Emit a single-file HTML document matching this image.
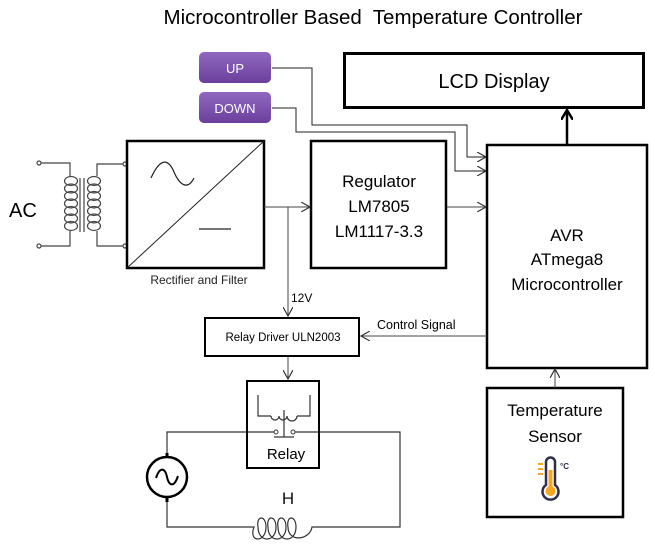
<!DOCTYPE html>
<html><head><style>
html,body{margin:0;padding:0;background:#fff;}
svg{display:block;font-family:"Liberation Sans",sans-serif;}
</style></head><body>
<svg width="655" height="548" viewBox="0 0 655 548" xmlns="http://www.w3.org/2000/svg">
<defs>
<linearGradient id="pg" x1="0" y1="0" x2="0" y2="1"><stop offset="0" stop-color="#9068c0"/><stop offset="1" stop-color="#6a3f9c"/></linearGradient>
<marker id="ar" markerWidth="10" markerHeight="10" refX="9" refY="5" orient="auto" markerUnits="userSpaceOnUse"><path d="M0,0 L9,5 L0,10" fill="none" stroke="#333" stroke-width="1.2"/></marker>
<marker id="ab" markerWidth="12" markerHeight="12" refX="10" refY="6" orient="auto" markerUnits="userSpaceOnUse"><path d="M0,0 L10,6 L0,12" fill="none" stroke="#000" stroke-width="2.5"/></marker>
</defs>
<text x="373" y="24" font-size="20.5" text-anchor="middle" fill="#000" xml:space="preserve">Microcontroller Based  Temperature Controller</text>

<!-- buttons -->
<rect x="199" y="52" width="72" height="31" rx="5" fill="url(#pg)"/>
<text x="235" y="73" font-size="13" fill="#fff" text-anchor="middle">UP</text>
<rect x="199" y="92" width="72" height="31" rx="5" fill="url(#pg)"/>
<text x="235" y="113" font-size="13" fill="#fff" text-anchor="middle">DOWN</text>
<polyline points="272,68 312,68 312,125 467,125 467,157 486,157" fill="none" stroke="#222" stroke-width="1" marker-end="url(#ar)"/>
<polyline points="272,108 296,108 296,132 455,132 455,171 486,171" fill="none" stroke="#222" stroke-width="1" marker-end="url(#ar)"/>

<!-- LCD -->
<rect x="344.5" y="53.5" width="299" height="54" fill="#fff" stroke="#000" stroke-width="3"/>
<text x="494" y="88" font-size="20" text-anchor="middle">LCD Display</text>
<line x1="567" y1="145" x2="567" y2="110" stroke="#000" stroke-width="2.5" marker-end="url(#ab)"/>

<!-- AVR -->
<rect x="487" y="145" width="160" height="223" fill="#fff" stroke="#000" stroke-width="2.5"/>
<text x="567" y="241" font-size="17" text-anchor="middle">AVR</text>
<text x="567" y="265" font-size="17" text-anchor="middle">ATmega8</text>
<text x="567" y="290" font-size="17" text-anchor="middle">Microcontroller</text>

<!-- transformer -->
<g fill="none" stroke="#444" stroke-width="1.2">
<circle cx="39" cy="163" r="2" fill="#fff"/><circle cx="39" cy="246" r="2" fill="#fff"/>
<polyline points="41,163 70,163 70,176"/><polyline points="41,246 70,246 70,231"/>
<ellipse cx="71" cy="181" rx="6.5" ry="4.5"/><ellipse cx="71" cy="188.5" rx="6.5" ry="4.5"/><ellipse cx="71" cy="196" rx="6.5" ry="4.5"/><ellipse cx="71" cy="203.5" rx="6.5" ry="4.5"/><ellipse cx="71" cy="211" rx="6.5" ry="4.5"/><ellipse cx="71" cy="218.5" rx="6.5" ry="4.5"/><ellipse cx="71" cy="226" rx="6.5" ry="4.5"/>
<line x1="80" y1="178" x2="80" y2="232"/><line x1="84" y1="178" x2="84" y2="232"/>
<ellipse cx="94" cy="181" rx="6.5" ry="4.5"/><ellipse cx="94" cy="188.5" rx="6.5" ry="4.5"/><ellipse cx="94" cy="196" rx="6.5" ry="4.5"/><ellipse cx="94" cy="203.5" rx="6.5" ry="4.5"/><ellipse cx="94" cy="211" rx="6.5" ry="4.5"/><ellipse cx="94" cy="218.5" rx="6.5" ry="4.5"/><ellipse cx="94" cy="226" rx="6.5" ry="4.5"/>
<polyline points="97,176 97,164 123,164"/><polyline points="97,231 97,246 123,246"/>
<circle cx="125" cy="164" r="2" fill="#fff"/><circle cx="125" cy="246" r="2" fill="#fff"/>
</g>
<text x="9" y="217" font-size="20">AC</text>

<!-- rectifier -->
<rect x="127" y="141" width="137" height="127" fill="none" stroke="#000" stroke-width="2.5"/>
<line x1="127" y1="268" x2="264" y2="141" stroke="#222" stroke-width="1"/>
<path d="M151,178 C160,158 168,158 174,172 C180,186 188,190 194,178" fill="none" stroke="#222" stroke-width="1.2"/>
<line x1="199" y1="229" x2="231" y2="229" stroke="#222" stroke-width="1.2"/>
<text x="199" y="284" font-size="12" text-anchor="middle" fill="#222">Rectifier and Filter</text>

<!-- regulator -->
<rect x="311" y="141" width="135" height="127" fill="#fff" stroke="#000" stroke-width="2.5"/>
<text x="379" y="187" font-size="17" text-anchor="middle">Regulator</text>
<text x="379" y="212" font-size="17" text-anchor="middle">LM7805</text>
<text x="379" y="237" font-size="17" text-anchor="middle">LM1117-3.3</text>
<line x1="264" y1="207" x2="310" y2="207" stroke="#444" stroke-width="1" marker-end="url(#ar)"/>
<line x1="447" y1="207" x2="486" y2="207" stroke="#444" stroke-width="1" marker-end="url(#ar)"/>
<line x1="288" y1="207" x2="288" y2="316" stroke="#444" stroke-width="1" marker-end="url(#ar)"/>
<text x="291" y="302" font-size="12">12V</text>

<!-- relay driver -->
<rect x="205" y="318" width="154" height="38" fill="#fff" stroke="#000" stroke-width="2"/>
<text x="283" y="341" font-size="11.5" text-anchor="middle">Relay Driver ULN2003</text>
<line x1="487" y1="336" x2="361" y2="336" stroke="#444" stroke-width="1" marker-end="url(#ar)"/>
<text x="377" y="329" font-size="12.5">Control Signal</text>
<line x1="288" y1="357" x2="288" y2="379" stroke="#444" stroke-width="1" marker-end="url(#ar)"/>

<!-- relay -->
<g fill="none" stroke="#333" stroke-width="1.2">
<polyline points="167,457 167,432 276,432"/>
<polyline points="295,432 400,432 400,527 334,527"/>
<polyline points="167,497 167,527 242,527"/>
<path d="M242,527 L254,527 C248,543 266,543 266,527 C266,515 256,515 258,527 C258,543 276,543 276,527 C276,515 266,515 268,527 C268,543 286,543 286,527 C286,515 276,515 278,527 C278,543 296,543 296,527 C296,515 286,515 288,527 C288,543 310,540 312,527 L334,527"/>
<polyline points="258,395 258,416 271,416"/><polyline points="310,395 310,416 297,416"/>
<path d="M271,416 a4,4 0 0 0 8,0 a4,4 0 0 0 8,0 a4,4 0 0 0 10,0"/>
<line x1="284" y1="410" x2="284" y2="437"/><line x1="274" y1="437" x2="294" y2="437"/>
</g>
<circle cx="276" cy="432" r="2" fill="#fff" stroke="#333"/><circle cx="293" cy="432" r="2" fill="#fff" stroke="#333"/>
<rect x="247" y="381" width="72" height="87" fill="none" stroke="#000" stroke-width="2"/>
<text x="286" y="459" font-size="15" text-anchor="middle">Relay</text>
<circle cx="167" cy="477" r="20" fill="#fff" stroke="#000" stroke-width="2.5"/>
<line x1="167" y1="453" x2="167" y2="457" stroke="#000" stroke-width="3"/>
<line x1="167" y1="497" x2="167" y2="502" stroke="#000" stroke-width="3"/>
<path d="M156,478 C160,466 165,468 167,477 C169,486 174,488 178,476" fill="none" stroke="#000" stroke-width="2"/>
<text x="288" y="504" font-size="17" text-anchor="middle" fill="#111">H</text>

<!-- temp sensor -->
<rect x="487" y="388" width="136" height="129" fill="#fff" stroke="#000" stroke-width="2.5"/>
<text x="555" y="416" font-size="17" text-anchor="middle">Temperature</text>
<text x="555" y="442" font-size="17" text-anchor="middle">Sensor</text>
<line x1="555" y1="388" x2="555" y2="369" stroke="#444" stroke-width="1" marker-end="url(#ar)"/>
<g>
<path d="M546,485 L546,462 a4.5,4.5 0 0 1 9,0 L555,485 a8,8 0 1 1 -9,0 Z" fill="#fff" stroke="#2f2f4a" stroke-width="2.5"/>
<rect x="548.5" y="470" width="4" height="18" fill="#f5a623"/>
<circle cx="550.5" cy="491" r="5" fill="#f5a623"/>
<line x1="538" y1="464" x2="543" y2="464" stroke="#f5a623" stroke-width="2"/>
<line x1="538" y1="469" x2="543" y2="469" stroke="#f5a623" stroke-width="2"/>
<line x1="538" y1="474" x2="543" y2="474" stroke="#f5a623" stroke-width="2"/>
<text x="560" y="469" font-size="8" font-weight="bold" fill="#2f2f4a">°C</text>
</g>
</svg>
</body></html>
